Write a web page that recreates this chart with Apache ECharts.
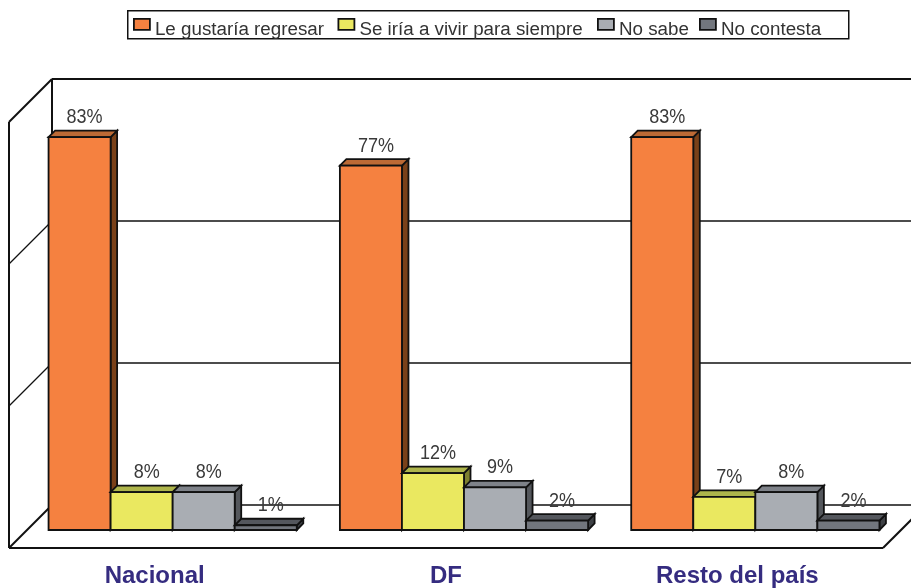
<!DOCTYPE html>
<html><head><meta charset="utf-8">
<style>html,body{margin:0;padding:0;background:#fff}#c{width:911px;height:588px}</style>
<script src="https://cdn.jsdelivr.net/npm/echarts@6/dist/echarts.min.js"></script>
</head><body><div id="c"></div>
<script>
const categories = ['Nacional', 'DF', 'Resto del país'];
const seriesNames = ['Le gustaría regresar', 'Se iría a vivir para siempre', 'No sabe', 'No contesta'];
const regresar = [83, 77, 83];
const siempre = [8, 12, 7];
const noSabe = [8, 9, 8];
const noContesta = [1, 2, 2];
const axisTicks = [0, 30, 60, 90];

const seriesValues = [regresar, siempre, noSabe, noContesta];
const frontColors = ['#F58140', '#EAE860', '#A9ADB3', '#72767D'];
const topColors = ['#BD6A35', '#AEB54B', '#7E8289', '#54575D'];
const sideColors = ['#7A4119', '#7D8030', '#54575C', '#3E4145'];

const WALL = [43, -43], PLANE = [18, -18], DEPTH = [6.5, -6.5];

function poly(points, fill) {
  return { type: 'polygon', shape: { points }, style: { fill, stroke: '#111', lineWidth: 1.8, lineJoin: 'miter' } };
}
function seg(a, b, w) {
  return { type: 'line', shape: { x1: a[0], y1: a[1], x2: b[0], y2: b[1] }, style: { stroke: '#111', lineWidth: w, fill: null } };
}
function wallItem(params, api) {
  const v = api.value(0);
  const left = params.coordSys.x, right = left + params.coordSys.width;
  const y = api.coord([0, v])[1];
  const kids = [
    seg([left, y], [left + WALL[0], y + WALL[1]], (v === 0 || v === 90) ? 2 : 1.2),
    seg([left + WALL[0], y + WALL[1]], [right + WALL[0], y + WALL[1]], (v === 90) ? 2.2 : 1.3)
  ];
  if (v === 0) {
    kids.push(seg([left, y], [right, y], 2.2));
    kids.push(seg([right, y], [right + WALL[0], y + WALL[1]], 2));
    const top = api.coord([0, axisTicks[axisTicks.length - 1]])[1];
    kids.push(seg([left, y], [left, top], 2));
    kids.push(seg([left + WALL[0], y + WALL[1]], [left + WALL[0], top + WALL[1]], 2));
  }
  return { type: 'group', children: kids };
}
function barItem(seriesIndex) {
  return function (params, api) {
    const cat = api.value(0), val = api.value(1);
    const band = api.size([1, 0])[0];
    const w = band * 0.213;
    const base = api.coord([cat, 0]);
    const topP = api.coord([cat, val]);
    const x0 = base[0] + PLANE[0] - 2 * w + seriesIndex * w;
    const x1 = x0 + w;
    const yb = base[1] + PLANE[1], yt = topP[1] + PLANE[1];
    const dx = DEPTH[0], dy = DEPTH[1];
    return {
      type: 'group',
      children: [
        poly([[x1, yb], [x1 + dx, yb + dy], [x1 + dx, yt + dy], [x1, yt]], sideColors[seriesIndex]),
        poly([[x0, yt], [x1, yt], [x1 + dx, yt + dy], [x0 + dx, yt + dy]], topColors[seriesIndex]),
        poly([[x0, yb], [x1, yb], [x1, yt], [x0, yt]], frontColors[seriesIndex]),
        { type: 'text', z2: 50, x: x0 + w / 2 + 5, y: yt + dy - 13, scaleX: 0.9, style: {
            text: val + '%', x: 0, y: 0,
            align: 'center', verticalAlign: 'middle',
            font: '20px "Liberation Sans",Arial,sans-serif', fill: '#3a3a3a'
        } }
      ]
    };
  };
}
const chart = echarts.init(document.getElementById('c'), null, { renderer: 'canvas' });
const legendLefts = [133, 337.5, 597, 699];
chart.setOption({
  animation: false,
  backgroundColor: '#fff',
  grid: { left: 9, right: 28, top: 122, bottom: 40, containLabel: false, outerBoundsMode: 'none' },
  xAxis: {
    type: 'category', data: categories, boundaryGap: true,
    axisLine: { show: false }, axisTick: { show: false }, splitLine: { show: false },
    axisLabel: { margin: 16, fontFamily: '"Liberation Sans",Arial,sans-serif', fontWeight: 'bold', fontSize: 24, color: '#352C80', interval: 0 }
  },
  yAxis: { type: 'value', min: 0, max: 90, interval: 30, show: false },
  graphic: [{ type: 'rect', left: 127, top: 10, z: 0,
    shape: { width: 721, height: 28 },
    style: { fill: '#fff', stroke: '#111', lineWidth: 1.5 } }],
  legend: seriesNames.map((name, i) => ({
    left: legendLefts[i], top: 18, padding: 0,
    itemWidth: 16, itemHeight: 11, icon: 'rect',
    itemStyle: { borderColor: '#111', borderWidth: 1.8 },
    formatter: '{t|{name}}',
    textStyle: { rich: { t: { fontSize: 18.8, padding: [10, 0, 0, 0], color: '#333',
      fontFamily: '"Liberation Sans",Arial,sans-serif' } } },
    data: [name]
  })),
  series: [
    { type: 'custom', name: 'walls', coordinateSystem: 'cartesian2d', clip: false, silent: true, z: 1,
      data: axisTicks.map(t => [t]), encode: { y: 0 }, renderItem: wallItem },
    ...seriesNames.map((name, i) => ({
      type: 'custom', name, coordinateSystem: 'cartesian2d', clip: false, z: 2 + i,
      itemStyle: { color: frontColors[i] },
      encode: { x: 0, y: 1 },
      data: seriesValues[i].map((v, c) => [c, v]),
      renderItem: barItem(i)
    }))
  ]
});
</script></body></html>
